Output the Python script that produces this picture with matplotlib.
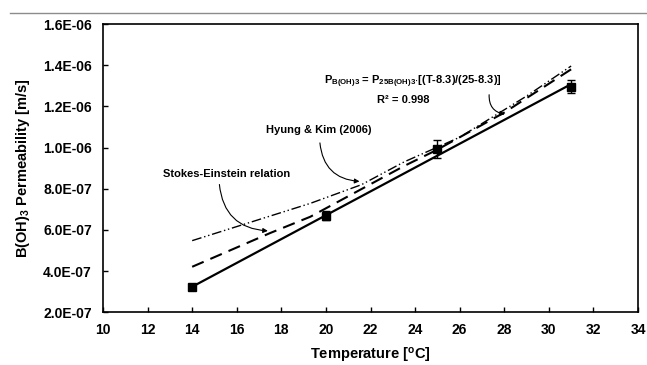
import matplotlib
matplotlib.use("Agg")
import matplotlib.pyplot as plt
from matplotlib.lines import Line2D
from matplotlib.ticker import FuncFormatter, MultipleLocator

# measured permeability (points with error bars)
temp_meas = [14, 20, 25, 31]
perm_meas = [3.24e-7, 6.70e-7, 9.93e-7, 1.295e-6]
perm_err = [0.0, 0.2e-7, 0.44e-7, 0.32e-7]

# linear fit  P = P25 * (T-8.3)/(25-8.3)
temp_fit = [14, 31]
perm_fit = [3.24e-7, 1.308e-6]

# Stokes-Einstein relation (dashed)
temp_se = [14, 17.5, 19.3, 23.5, 25, 28, 31]
perm_se = [4.21e-7, 5.85e-7, 6.64e-7, 9.1e-7, 9.9e-7, 1.17e-6, 1.38e-6]

# Hyung & Kim (2006) (dash-dot-dot)
temp_hk = [14, 19.3, 21.6, 23.5, 26, 29, 31]
perm_hk = [5.48e-7, 7.29e-7, 8.2e-7, 9.3e-7, 1.05e-6, 1.25e-6, 1.396e-6]

plt.rcParams["font.family"] = ["Liberation Sans", "DejaVu Sans"]
plt.rcParams["font.weight"] = "bold"
plt.rcParams["mathtext.fontset"] = "custom"
plt.rcParams["mathtext.rm"] = "Liberation Sans:bold"
plt.rcParams["mathtext.it"] = "Liberation Sans:bold"
plt.rcParams["mathtext.bf"] = "Liberation Sans:bold"

fig = plt.figure(figsize=(6.47, 3.65), dpi=100)
ax = fig.add_axes([0.1592, 0.1444, 0.8269, 0.7898])

# thin grey rule across the top of the figure
fig.add_artist(Line2D([0.015, 1.0], [0.965, 0.965], color="#8c8c8c",
                      linewidth=1.0, transform=fig.transFigure))

ax.plot(temp_fit, perm_fit, color="black", linewidth=1.6, zorder=3)
ax.plot(temp_se, perm_se, color="black", linewidth=1.5,
        dashes=(6, 3.5), zorder=2)
ax.plot(temp_hk, perm_hk, color="black", linewidth=1.0,
        dashes=(7, 2, 1, 2, 1, 2), zorder=2)
ax.errorbar(temp_meas, perm_meas, yerr=perm_err, fmt="s", color="black",
            markersize=6, capsize=3, elinewidth=1.0, capthick=1.0, zorder=4)

ax.set_xlim(10, 34)
ax.set_ylim(2e-7, 1.6e-6)
ax.xaxis.set_major_locator(MultipleLocator(2))
ax.yaxis.set_major_locator(MultipleLocator(2e-7))
ax.yaxis.set_major_formatter(FuncFormatter(lambda v, _: f"{v:.1E}"))

ax.tick_params(direction="in", length=3.5, width=1.0, labelsize=10, pad=8)
for lab in ax.get_xticklabels() + ax.get_yticklabels():
    lab.set_fontweight("bold")
for spine in ax.spines.values():
    spine.set_linewidth(1.2)

ax.set_xlabel(r"Temperature [$^{\mathrm{o}}$C]", fontsize=10.5,
              fontweight="bold", labelpad=6)
ax.set_ylabel(r"B(OH)$_3$ Permeability [m/s]", fontsize=10.5,
              fontweight="bold", labelpad=8)

arrow = dict(arrowstyle="-|>", color="black", linewidth=0.8,
             mutation_scale=7)

ax.text(15.54, 8.71e-7, "Stokes-Einstein relation", fontsize=8,
        fontweight="bold", ha="center", va="center")
ax.annotate("", xy=(17.52, 5.95e-7), xytext=(15.21, 8.34e-7),
            arrowprops=dict(arrow, connectionstyle="arc3,rad=0.45"))

ax.text(19.66, 1.085e-6, "Hyung & Kim (2006)", fontsize=8,
        fontweight="bold", ha="center", va="center")
ax.annotate("", xy=(21.63, 8.35e-7), xytext=(19.72, 1.036e-6),
            arrowprops=dict(arrow, connectionstyle="arc3,rad=0.45"))

ax.text(27.9, 1.319e-6,
        r"P$_{\mathrm{B(OH)3}}$ = P$_{\mathrm{25B(OH)3}}$$\cdot$[(T-8.3)/(25-8.3)]",
        fontsize=8, fontweight="bold", ha="right", va="center")
ax.text(22.3, 1.23e-6, "R² = 0.998", fontsize=8, fontweight="bold",
        ha="left", va="center")
ax.annotate("", xy=(28.15, 1.16e-6), xytext=(27.33, 1.27e-6),
            arrowprops=dict(arrow, connectionstyle="arc3,rad=0.5"))

fig.savefig("out.png", dpi=100)
